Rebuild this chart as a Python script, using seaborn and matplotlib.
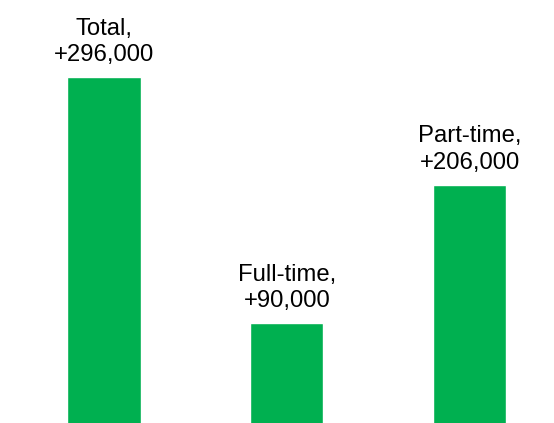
import matplotlib
matplotlib.use("Agg")
import matplotlib.pyplot as plt
import seaborn as sns
import pandas as pd

categories = ["Total", "Full-time", "Part-time"]
values = [296000, 90000, 206000]
labels = ["Total,\n+296,000", "Full-time,\n+90,000", "Part-time,\n+206,000"]

sns.set_style("white")
plt.rcParams['font.family'] = ['Liberation Sans', 'DejaVu Sans']

fig = plt.figure(figsize=(5.54, 4.23), dpi=100)
ax = fig.add_axes([0, -7.5 / 423, 1, 430.5 / 423])
df = pd.DataFrame({"cat": categories, "val": values})
sns.barplot(data=df, x="cat", y="val", color="#00B050", saturation=1, width=0.4, ax=ax)
ax.set_xlim(-0.569, 2.462)
ax.set_ylim(0, 360550)
ax.axis("off")

for i, (v, lab) in enumerate(zip(values, labels)):
    ax.annotate(lab, (i, v), xytext=(0, 11.5), textcoords="offset points",
                ha="center", va="baseline", fontsize=17.2, linespacing=1.25, color="black")

fig.savefig("out.png", dpi=100)
